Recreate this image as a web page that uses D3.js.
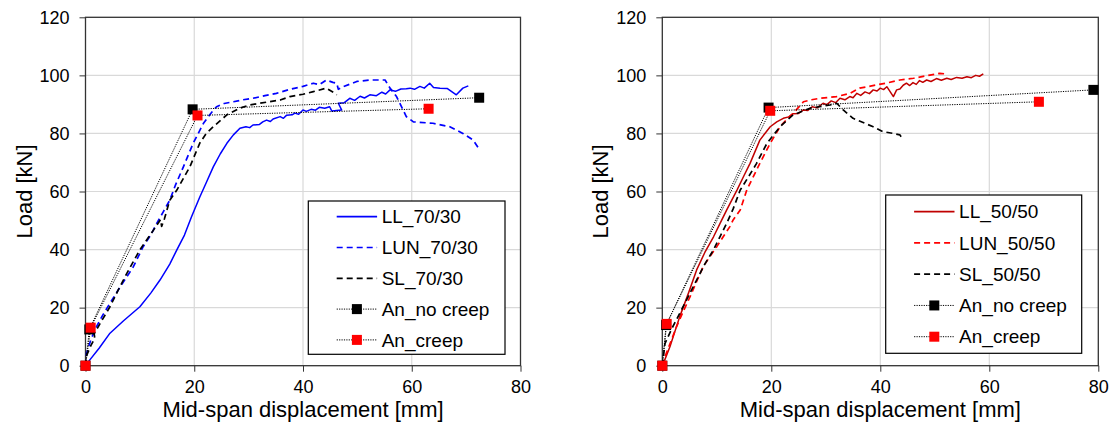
<!DOCTYPE html>
<html>
<head>
<meta charset="utf-8">
<script src="https://cdn.jsdelivr.net/npm/d3@7"></script>
<style>
  body { margin: 0; background: #fff; }
  text { font-family: Arial, "Liberation Sans", sans-serif; fill: #000; }
</style>
</head>
<body>
<div id="container"></div>
<script>

/* DATA */

// left chart, 70/30
const ll7030 = [[0,0],[0.8,2],[2.5,6],[4.5,11.2],[7,15.5],[10,20.3],[12,25],[13.7,29.5],[15.5,35],[16.8,39.9],[18.2,45],[19.5,51.3],[21,58],[22.2,63],[23.5,68.5],[24.8,73],[26,76.6],[27.2,79.5],[28.4,81.8],[29.5,82.3],[30.2,82],[30.8,82.9],[32,83.1],[32.6,84],[33.3,84.6],[34,84.1],[34.5,85],[35.8,85.8],[36.4,85.2],[37,86.3],[38,86.4],[38.5,87],[39.2,86.6],[40,88.1],[40.6,87.6],[41.5,88.3],[42.3,88],[43,89],[44,88.7],[44.9,89.2],[45.3,87.7],[47.1,88.1],[46.5,90.4],[47.6,90.6],[48.6,92.1],[49.5,91.4],[50.5,92.8],[51.3,92.2],[52.3,93.3],[53.5,93],[54.5,94.2],[55.2,93.6],[56,95],[57,94.5],[58,95.3],[59,95.4],[59.7,95.6],[60.5,95.2],[61.5,96.2],[62.3,95.6],[63.3,97.3],[64,95.8],[65.2,95.6],[66.5,95.5],[68.2,93.3],[69.4,95.6],[70.4,96.4]];
const lun7030 = [[0,0],[0.2,4.4],[1,9],[2,13.4],[3.2,17.5],[4.5,21.5],[6.5,27.5],[8.8,34.1],[10.6,41],[12,45],[13.1,49],[14.3,53],[15.5,57],[16.5,62],[18,68.5],[19.8,76.6],[21.7,83.5],[23,86.8],[24.1,89.2],[25.5,90.3],[27.2,90.9],[29,91.6],[30.8,92.1],[33,93],[35.1,93.8],[37.6,95.2],[40,96.2],[41.9,97.3],[43,96.8],[44.3,98.4],[45.5,97.6],[46.2,97.3],[46.5,95.2],[47.4,96.1],[49.9,97.9],[52.3,98.4],[53.8,98.4],[55.1,98.4],[56,95.6],[57.2,92.7],[58.4,88.1],[59,85.8],[60.3,84],[63.9,83.5],[67,82.3],[69.4,80],[71.3,77.7],[72.5,74.3]];
const sl7030 = [[0,0],[0.1,3.1],[1,7],[1.7,9.4],[1.6,11],[2.7,14.6],[4.5,20.3],[6,26],[7.6,31.8],[10,39.9],[12.5,46.7],[13.8,50.3],[14,48],[14.5,50.5],[15.5,57],[16.8,60.5],[18,64.5],[19.2,68.5],[21,76.6],[22.2,80],[23.5,82.3],[26,86.4],[28.4,88.7],[30,89.7],[32.1,90.4],[35.8,91.5],[37.6,92.7],[40,93.5],[41.9,94.4],[44.3,95.6],[45.9,93.8],[46.2,93.3]];
const anNoCreep7030 = [[0,0],[0.7,12.5],[19.7,88.3],[72.4,92.3]];
const anCreep7030 = [[0,0],[0.95,13.1],[20.6,86.2],[63.1,88.5]];

// right chart, 50/50
const ll5050 = [[0,0],[0.2,0.8],[1.4,6.5],[3.2,16.9],[4.8,25],[6.3,33],[7.8,39],[9.4,44.4],[10.6,49],[11.8,53.6],[13.7,60.5],[15,65.5],[16.1,69.7],[17.9,77.7],[19.8,82.3],[21,84],[22.2,85.2],[23.2,85.7],[24,86.8],[25,86.9],[25.9,88.1],[26.7,87.9],[27.5,89.2],[28.4,88.8],[29.5,90.4],[30.2,89.9],[31,91.2],[31.8,90.6],[32.6,92.1],[33.5,91.6],[34.4,92.7],[35,92.3],[35.7,93.8],[36.4,93.1],[37.2,94.3],[38,93.7],[38.7,95],[39.4,94.6],[40,95.6],[40.6,95.1],[41.2,96.1],[42.4,92.7],[43,95],[43.6,95.3],[44.2,96.6],[44.8,97.3],[45.4,96.5],[46,97.5],[46.6,96.9],[47.2,98.2],[47.8,97.6],[48.5,98.4],[49.3,97.9],[50.3,98.9],[51.2,98.3],[52.2,99],[53,98.6],[54,99.3],[55,99],[55.9,99.5],[56.7,99.2],[57.5,100],[58.2,99.7],[58.9,100.5]];
const lun5050 = [[0,0],[0.5,3.1],[1.5,8],[2.6,13.4],[3.8,18.5],[5.1,23.8],[6.3,29],[7.5,34.1],[8.7,37.5],[10,41],[11.2,44.5],[12.4,47.9],[13,50.2],[14.3,53.6],[15.5,60.5],[17.9,69.7],[19.8,76.6],[21.6,82.3],[22.8,84.8],[24,86.9],[25.9,90.9],[27.4,91.6],[28.9,92.1],[32,92.7],[34.4,93.8],[36.2,95.6],[39.3,96.7],[41.5,97.5],[43.6,98.4],[46.1,99],[49.1,100.1],[50.9,100.7],[52,100.5]];
const sl5050 = [[0,0],[0.5,7.7],[1.8,13],[3.2,18],[4.8,24],[6.3,29.5],[7.8,35],[9.4,39.9],[10.6,44.5],[11.8,49],[13,54],[14.3,60.5],[15.8,65],[17.3,69.7],[19.2,76.6],[21.6,82.3],[24,86.4],[27.1,88.7],[30.8,89.8],[32,90.4],[33.2,88.1],[35,85.2],[38.7,82.3],[40.5,80.6],[42.4,80],[43.6,79.5],[44.2,77.7]];
const anNoCreep5050 = [[0,0],[0.7,14],[19.5,88.9],[79.1,95]];
const anCreep5050 = [[0,0],[0.8,14.4],[19.8,87.8],[69.1,90.9]];

// ticks and labels
const xTicks = [0, 20, 40, 60, 80];
const yTicks = [0, 20, 40, 60, 80, 100, 120];
const xTitle = "Mid-span displacement [mm]";
const yTitle = "Load [kN]";


/* CONSTANTS AND GLOBALS */
const width = 1113;
const height = 428;
const plotTop = 17.3;
const plotBottom = 365.7;

const svg = d3.select("#container")
  .append("svg")
  .attr("width", width)
  .attr("height", height);

function drawPanel(p) {

  /* SCALES */
  const xScale = d3.scaleLinear().domain([0, 80]).range([p.x0, p.x1]);
  const yScale = d3.scaleLinear().domain([0, 120]).range([plotBottom, plotTop]);

  const g = svg.append("g");

  // GRID
  g.selectAll(".gx")
    .data(xTicks.slice(1, -1))
    .join("line")
    .attr("x1", d => xScale(d)).attr("x2", d => xScale(d))
    .attr("y1", plotTop).attr("y2", plotBottom)
    .attr("stroke", "#d9d9d9").attr("stroke-width", 1.2);

  g.selectAll(".gy")
    .data(yTicks.slice(1, -1))
    .join("line")
    .attr("x1", p.x0).attr("x2", p.x1)
    .attr("y1", d => yScale(d)).attr("y2", d => yScale(d))
    .attr("stroke", "#d9d9d9").attr("stroke-width", 1.2);

  // AXES
  const xAxis = d3.axisBottom(xScale).tickValues(xTicks).tickSize(6).tickSizeOuter(0).tickPadding(9);
  const yAxis = d3.axisLeft(yScale).tickValues(yTicks).tickSize(6).tickSizeOuter(0).tickPadding(10);

  const gx = g.append("g")
    .attr("transform", "translate(0," + plotBottom + ")")
    .call(xAxis);
  const gy = g.append("g")
    .attr("transform", "translate(" + p.x0 + ",0)")
    .call(yAxis);
  [gx, gy].forEach(a => {
    a.select(".domain").remove();
    a.selectAll("line").attr("stroke", "#333");
    a.selectAll("text").style("font-size", "18px").attr("fill", "#000");
  });

  // frame
  g.append("rect")
    .attr("x", p.x0).attr("y", plotTop)
    .attr("width", p.x1 - p.x0).attr("height", plotBottom - plotTop)
    .attr("fill", "none").attr("stroke", "#333").attr("stroke-width", 1.3);

  // LINES
  const line = d3.line().x(d => xScale(d[0])).y(d => yScale(d[1]));

  p.series.forEach(s => {
    g.append("path")
      .datum(s.values)
      .attr("d", line)
      .attr("fill", "none")
      .attr("stroke", s.color)
      .attr("stroke-width", s.dash ? 1.7 : 1.5)
      .attr("stroke-dasharray", s.dash ? "6,4" : null)
      .attr("stroke-linejoin", "round");
  });

  p.analytic.forEach(s => {
    g.append("path")
      .datum(s.values)
      .attr("d", line)
      .attr("fill", "none")
      .attr("stroke", "#000")
      .attr("stroke-width", 1)
      .attr("stroke-dasharray", "1.2,1.2");
  });

  p.analytic.forEach(s => {
    g.selectAll(null)
      .data(s.values)
      .join("rect")
      .attr("x", d => xScale(d[0]) - 5)
      .attr("y", d => yScale(d[1]) - 5)
      .attr("width", 10).attr("height", 10)
      .attr("fill", s.color);
  });

  // LABELS
  g.append("text")
    .attr("x", (p.x0 + p.x1) / 2)
    .attr("y", 416.5)
    .attr("text-anchor", "middle")
    .style("font-size", "22px")
    .text(xTitle);

  g.append("text")
    .attr("transform", "translate(" + (p.x0 - 54) + "," + 191.5 + ") rotate(-90)")
    .attr("text-anchor", "middle")
    .style("font-size", "22px")
    .text(yTitle);

  // LEGEND
  const lg = g.append("g").attr("transform", "translate(" + p.legend.x + "," + p.legend.y + ")");
  lg.append("rect")
    .attr("width", p.legend.w).attr("height", p.legend.h)
    .attr("fill", "#fff").attr("stroke", "#000").attr("stroke-width", 1.2);

  const items = p.series.concat(p.analytic);
  items.forEach((s, i) => {
    const yy = p.legend.first + i * p.legend.step;
    if (s.values === p.analytic[0].values || s.values === p.analytic[1].values) {
      lg.append("line")
        .attr("x1", 28.4).attr("x2", 68.8).attr("y1", yy).attr("y2", yy)
        .attr("stroke", "#000").attr("stroke-width", 1).attr("stroke-dasharray", "1.2,1.2");
      lg.append("rect")
        .attr("x", 48.6 - 5).attr("y", yy - 5).attr("width", 10).attr("height", 10)
        .attr("fill", s.color);
    } else {
      lg.append("line")
        .attr("x1", 28.4).attr("x2", 68.8).attr("y1", yy).attr("y2", yy)
        .attr("stroke", s.color)
        .attr("stroke-width", s.dash ? 1.7 : 1.8)
        .attr("stroke-dasharray", s.dash ? "6,4" : null);
    }
    lg.append("text")
      .attr("x", 73.4).attr("y", yy)
      .attr("dy", "0.35em")
      .style("font-size", "19px")
      .text(s.name);
  });
}

drawPanel({
  x0: 85.5, x1: 520.5,
  series: [
    { name: "LL_70/30", values: ll7030, color: "#0000ff", dash: false },
    { name: "LUN_70/30", values: lun7030, color: "#0000ff", dash: true },
    { name: "SL_70/30", values: sl7030, color: "#000000", dash: true }
  ],
  analytic: [
    { name: "An_no creep", values: anNoCreep7030, color: "#000000" },
    { name: "An_creep", values: anCreep7030, color: "#ff0000" }
  ],
  legend: { x: 308.3, y: 201, w: 196.7, h: 153.3, first: 15.7, step: 30.8 }
});

drawPanel({
  x0: 662.3, x1: 1098.3,
  series: [
    { name: "LL_50/50", values: ll5050, color: "#c00000", dash: false },
    { name: "LUN_50/50", values: lun5050, color: "#ff0000", dash: true },
    { name: "SL_50/50", values: sl5050, color: "#000000", dash: true }
  ],
  analytic: [
    { name: "An_no creep", values: anNoCreep5050, color: "#000000" },
    { name: "An_creep", values: anCreep5050, color: "#ff0000" }
  ],
  legend: { x: 885.7, y: 195, w: 196, h: 158.3, first: 16.7, step: 31.25 }
});

</script>
</body>
</html>
